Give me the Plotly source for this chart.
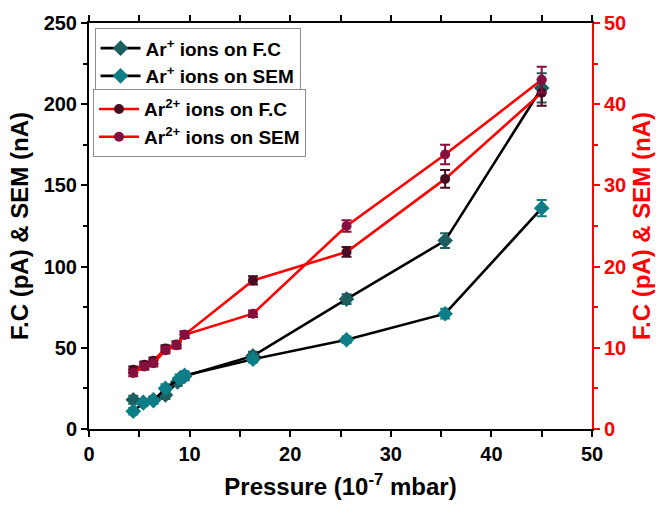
import plotly.graph_objects as go

# ---- data ----
p_ar1_fc = [4.4, 5.4, 6.4, 7.6, 8.8, 9.5, 16.3, 25.6, 35.4, 45.0]
ar1_fc = [18, 16.5, 18, 21, 29, 32.5, 45, 80, 116, 210]
ar1_fc_err = [2.5, 2, 2, 2.5, 2.5, 2.5, 2.5, 3, 4.5, 9]

p_ar1_sem = [4.4, 5.4, 6.4, 7.6, 9.0, 9.5, 16.3, 25.6, 35.4, 45.0]
ar1_sem = [11, 16, 17.5, 25, 31, 33, 43, 55, 71, 136]
ar1_sem_err = [2, 2, 2, 2.5, 2.5, 2.5, 2, 2, 3, 5]

p_ar2 = [4.4, 5.5, 6.4, 7.6, 8.7, 9.5, 16.3, 25.6, 35.4, 45.0]
ar2_fc = [7.3, 7.9, 8.4, 9.9, 10.4, 11.6, 18.3, 21.8, 30.8, 41.4]
ar2_fc_err = [0.4, 0.4, 0.4, 0.4, 0.4, 0.4, 0.5, 0.6, 1.1, 1.6]
ar2_sem = [6.9, 7.7, 8.1, 9.7, 10.3, 11.6, 14.2, 25.0, 33.8, 43.0]
ar2_sem_err = [0.4, 0.4, 0.4, 0.4, 0.4, 0.4, 0.4, 0.7, 1.2, 1.6]

names = ["Ar<sup>+</sup> ions on F.C", "Ar<sup>+</sup> ions on SEM",
         "Ar<sup>2+</sup> ions on F.C", "Ar<sup>2+</sup> ions on SEM"]

c_ar1_fc = "#1F5E60"
c_ar1_sem = "#0E7E86"
c_ar2_fc = "#4A0C20"
c_ar2_sem = "#850F3E"

FONT = "Liberation Sans, Arial, sans-serif"

fig = go.Figure()

def add(x, y, err, name, mcol, lcol, symbol, size, yaxis, legend):
    fig.add_trace(go.Scatter(
        x=x, y=y, name=name, mode="lines+markers", yaxis=yaxis, legend=legend,
        line=dict(color=lcol, width=2.6),
        marker=dict(symbol=symbol, size=size, color=mcol),
        error_y=dict(type="data", array=err, visible=True, color=mcol,
                     thickness=2, width=5),
    ))

add(p_ar1_fc, ar1_fc, ar1_fc_err, names[0], c_ar1_fc, "black", "diamond", 12, "y", "legend")
add(p_ar1_sem, ar1_sem, ar1_sem_err, names[1], c_ar1_sem, "black", "diamond", 12, "y", "legend")
add(p_ar2, ar2_fc, ar2_fc_err, names[2], c_ar2_fc, "#FF0000", "circle", 10, "y2", "legend2")
add(p_ar2, ar2_sem, ar2_sem_err, names[3], c_ar2_sem, "#FF0000", "circle", 10, "y2", "legend2")

tickfont = dict(family=FONT, size=20, color="black", weight="bold")
legfont = dict(family=FONT, size=19, color="black", weight="bold")

fig.update_layout(
    width=663, height=508,
    margin=dict(l=89, r=68, t=22, b=77, pad=0),
    paper_bgcolor="white", plot_bgcolor="white",
    font=dict(family=FONT),
    xaxis=dict(
        range=[0, 50], tickmode="linear", tick0=0, dtick=10,
        ticks="outside", ticklen=6, tickwidth=2, tickcolor="black",
        minor=dict(dtick=5, ticks="outside", ticklen=4, tickwidth=2, tickcolor="black"),
        showline=True, linecolor="black", linewidth=2, mirror="allticks",
        showgrid=False, zeroline=False, tickfont=tickfont,
        title=dict(text="Pressure (10<sup>-7</sup> mbar)", standoff=14,
                   font=dict(family=FONT, size=24, color="black", weight="bold")),
    ),
    yaxis=dict(
        range=[0, 250], tickmode="linear", tick0=0, dtick=50,
        ticks="outside", ticklen=6, tickwidth=2, tickcolor="black",
        minor=dict(dtick=25, ticks="outside", ticklen=4, tickwidth=2, tickcolor="black"),
        showline=True, linecolor="black", linewidth=2, mirror=False,
        showgrid=False, zeroline=False, tickfont=tickfont,
        title=dict(text="F.C (pA) & SEM (nA)", standoff=8,
                   font=dict(family=FONT, size=24, color="black", weight="bold")),
    ),
    yaxis2=dict(
        range=[0, 50], overlaying="y", side="right", tickmode="linear", tick0=0, dtick=10,
        ticks="outside", ticklen=6, tickwidth=2, tickcolor="#FF0000",
        minor=dict(dtick=5, ticks="outside", ticklen=4, tickwidth=2, tickcolor="#FF0000"),
        showline=True, linecolor="#FF0000", linewidth=2,
        showgrid=False, zeroline=False,
        tickfont=dict(family=FONT, size=20, color="#FF0000", weight="bold"),
        title=dict(text="F.C (pA) & SEM (nA)", standoff=8,
                   font=dict(family=FONT, size=24, color="#FF0000", weight="bold")),
    ),
    legend=dict(x=0.011, y=0.987, xanchor="left", yanchor="top",
                bgcolor="white", bordercolor="#8C8C8C", borderwidth=1,
                font=legfont, tracegroupgap=0, itemwidth=40),
    legend2=dict(x=0.008, y=0.837, xanchor="left", yanchor="top",
                 bgcolor="white", bordercolor="#8C8C8C", borderwidth=1,
                 font=legfont, tracegroupgap=0, itemwidth=40),
)

fig.write_html("out.html")
